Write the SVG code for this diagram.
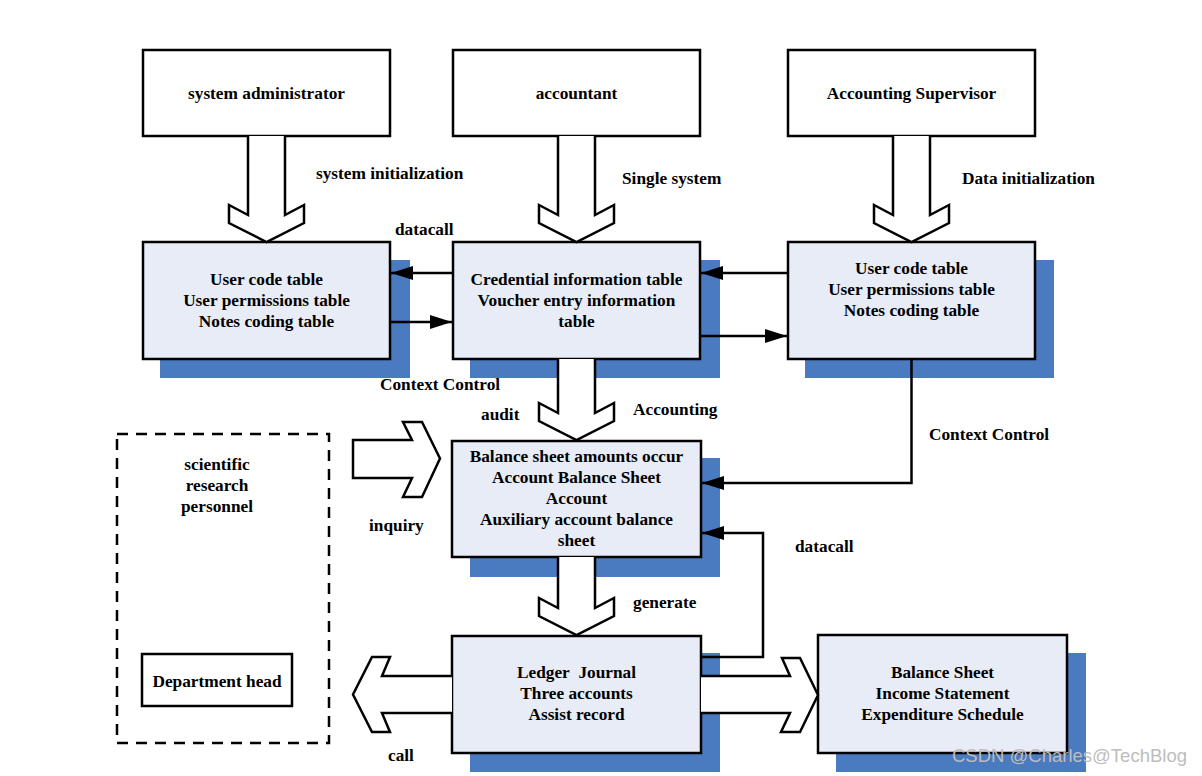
<svg xmlns="http://www.w3.org/2000/svg" width="1202" height="776" viewBox="0 0 1202 776">
<style>
text{font-family:"Liberation Serif","Times New Roman",serif;font-weight:bold;font-size:17.3px;fill:#000}
.c{text-anchor:middle}
.box{fill:#e7ecf7;stroke:#000;stroke-width:2.5}
.top{fill:#fff;stroke:#000;stroke-width:2.5}
.sh{fill:#4a7abf}
.blk{fill:#fff;stroke:#000;stroke-width:2.5;stroke-linejoin:miter}
.ln{fill:none;stroke:#000;stroke-width:2.5}
.wm{font-family:"Liberation Sans",Arial,sans-serif;font-weight:normal;font-size:18.5px;fill:#bdbdbd}
</style>
<defs>
<marker id="ah" markerWidth="22" markerHeight="14" refX="22" refY="7" orient="auto" markerUnits="userSpaceOnUse">
<path d="M0,0 L22,7 L0,14 Z" fill="#000"/>
</marker>
</defs>
<rect width="1202" height="776" fill="#fff"/>

<g id="sysadmin"><rect class="top" x="143" y="50" width="247" height="86"/><text class="c" x="266.5" y="99">system administrator</text></g>
<g id="accountant"><rect class="top" x="453" y="50" width="247" height="86"/><text class="c" x="576.5" y="99">accountant</text></g>
<g id="supervisor"><rect class="top" x="788" y="50" width="247" height="86"/><text class="c" x="911.5" y="99">Accounting Supervisor</text></g>

<g id="userTablesLeft"><rect class="sh" x="160" y="260" width="250" height="118"/><rect class="box" x="143" y="242" width="247" height="117"/>
<text class="c" x="266.5" y="285">User code table</text><text class="c" x="266.5" y="306">User permissions table</text><text class="c" x="266.5" y="327">Notes coding table</text></g>

<g id="credential"><rect class="sh" x="470" y="260" width="250" height="118"/><rect class="box" x="453" y="242" width="247" height="117"/>
<text class="c" x="576.5" y="285">Credential information table</text><text class="c" x="576.5" y="306">Voucher entry information</text><text class="c" x="576.5" y="327">table</text></g>

<g id="userTablesRight"><rect class="sh" x="805" y="260" width="249" height="118"/><rect class="box" x="788" y="242" width="247" height="117"/>
<text class="c" x="911.5" y="274">User code table</text><text class="c" x="911.5" y="295">User permissions table</text><text class="c" x="911.5" y="316">Notes coding table</text></g>

<g id="balance"><rect class="sh" x="470" y="458" width="250" height="119"/><rect class="box" x="452" y="441" width="249" height="116"/>
<text class="c" x="576.5" y="462">Balance sheet amounts occur</text><text class="c" x="576.5" y="483">Account Balance Sheet</text><text class="c" x="576.5" y="504">Account</text><text class="c" x="576.5" y="525">Auxiliary account balance</text><text class="c" x="576.5" y="546">sheet</text></g>

<g id="ledger"><rect class="sh" x="470" y="653" width="250" height="119"/><rect class="box" x="452" y="636" width="249" height="117"/>
<text class="c" x="576.5" y="678">Ledger&#160; Journal</text><text class="c" x="576.5" y="699">Three accounts</text><text class="c" x="576.5" y="720">Assist record</text></g>

<g id="statements"><rect class="sh" x="836" y="653" width="250" height="119"/><rect class="box" x="818" y="635" width="249" height="118"/>
<text class="c" x="942.5" y="678">Balance Sheet</text><text class="c" x="942.5" y="699">Income Statement</text><text class="c" x="942.5" y="720">Expenditure Schedule</text></g>

<g id="research"><rect x="117" y="434" width="212" height="309" fill="none" stroke="#000" stroke-width="2.5" stroke-dasharray="11,8"/>
<text class="c" x="217" y="470">scientific</text><text class="c" x="217" y="491">research</text><text class="c" x="217" y="512">personnel</text>
<rect x="142" y="654" width="150" height="52" fill="#fff" stroke="#000" stroke-width="2.5"/><text class="c" x="217" y="687">Department head</text></g>

<g id="connectors">
<path class="blk" d="M248,136 L248,215 L229,205 L229,223 L266.5,242 L304,223 L304,205 L285,215 L285,136"/>
<path class="blk" d="M558,136 L558,215 L539,205 L539,223 L576.5,242 L614,223 L614,205 L595,215 L595,136"/>
<path class="blk" d="M893,136 L893,215 L874,205 L874,223 L911.5,242 L949,223 L949,205 L930,215 L930,136"/>
<path class="blk" d="M558,359 L558,413 L539,403 L539,421 L576.5,440 L614,421 L614,403 L595,413 L595,359"/>
<path class="blk" d="M558,557 L558,608 L539,598 L539,616 L576.5,635 L614,616 L614,598 L595,608 L595,557"/>
<path class="blk" d="M353,440 L412,440 L403,422 L422,422 L440,458.5 L422,497 L403,497 L412,478 L353,478 Z"/>
<path class="blk" d="M452,676 L382,676 L390,657 L372,657 L353,694.5 L372,732 L390,732 L382,713 L452,713"/>
<path class="blk" d="M701,676 L790,676 L782,658 L800,658 L818,695 L800,732 L781,732 L790,713 L701,713"/>
<line class="ln" x1="453" y1="273" x2="391" y2="273" marker-end="url(#ah)"/>
<line class="ln" x1="390" y1="322" x2="452" y2="322" marker-end="url(#ah)"/>
<line class="ln" x1="788" y1="273" x2="701" y2="273" marker-end="url(#ah)"/>
<line class="ln" x1="700" y1="336" x2="787" y2="336" marker-end="url(#ah)"/>
<polyline class="ln" points="911.5,359 911.5,483 702,483" marker-end="url(#ah)"/>
<polyline class="ln" points="701,657 763,657 763,533 702,533" marker-end="url(#ah)"/>
</g>

<g id="labels">
<text x="316" y="179">system initialization</text>
<text x="395" y="235">datacall</text>
<text x="622" y="184">Single system</text>
<text x="962" y="184">Data initialization</text>
<text x="380" y="390">Context Control</text>
<text x="481" y="420">audit</text>
<text x="633" y="415">Accounting</text>
<text x="929" y="440">Context Control</text>
<text x="369" y="531">inquiry</text>
<text x="795" y="552">datacall</text>
<text x="633" y="608">generate</text>
<text x="388" y="761">call</text>
</g>
<text class="wm" x="952" y="762">CSDN @Charles@TechBlog</text>
</svg>
